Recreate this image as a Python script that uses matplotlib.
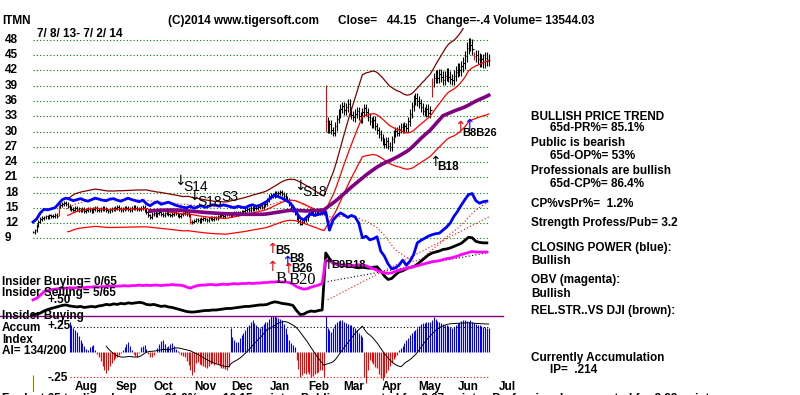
import matplotlib
matplotlib.use("Agg")
import matplotlib.pyplot as plt
from matplotlib.lines import Line2D
from matplotlib.transforms import blended_transform_factory
import numpy as np
import pandas as pd

plt.rcParams['font.family'] = ['Liberation Sans', 'DejaVu Sans']
plt.rcParams['font.weight'] = 'bold'

# ---- data ----
symbol = "ITMN"
date_range = "7/ 8/ 13- 7/ 2/ 14"
month_labels = ['Aug', 'Sep', 'Oct', 'Nov', 'Dec', 'Jan', 'Feb', 'Mar', 'Apr', 'May', 'Jun', 'Jul']
# trading days in each month, Jul 8 2013 .. Jul 2 2014
month_days = [18, 22, 20, 23, 20, 21, 21, 19, 21, 21, 21, 21, 2]
price_ticks = [9, 12, 15, 18, 21, 24, 27, 30, 33, 36, 39, 42, 45, 48]

closes = [
    10.2, 10.6, 11.5, 12.3, 12.8, 13.0,
    13.1, 13.3, 13.2, 13.5, 13.4, 13.3, 13.6, 13.4,
    15.3,
    15.5, 15.8, 16.0, 15.7, 15.4,
    15.0, 14.8, 14.6, 14.9, 14.7, 14.5, 14.6, 14.8, 14.4, 14.5, 14.7,
    14.6, 14.4, 14.7, 14.9, 14.6, 14.5, 14.8, 15.0, 14.7, 14.5,
    14.4, 14.6, 14.8, 14.7, 14.9, 15.1, 14.8, 14.6, 14.7, 14.9,
    15.0, 14.8, 14.6, 14.9, 15.2, 15.0, 14.8, 14.7, 14.9, 15.1,
    14.6, 14.2, 13.5, 13.2, 13.8, 14.0, 13.6, 13.9, 14.1, 13.8, 13.6, 13.9,
    14.0, 13.7, 13.5, 13.8, 14.1, 13.9, 13.6, 13.4, 13.7, 13.9, 14.2, 13.8, 13.5,
    12.2,
    12.3, 12.5, 12.7, 12.6, 12.4, 12.8, 12.9, 12.7, 12.6, 12.9, 13.0, 12.8, 13.1, 13.0,
    13.3, 13.5, 13.6, 13.4, 13.7, 13.9, 13.8, 13.6, 13.9, 14.0, 13.8, 14.1, 14.0, 14.2, 14.3,
    14.5, 14.7, 14.6, 14.9, 14.8, 15.0, 14.9, 15.1, 15.3, 15.2, 15.5, 15.8,
    16.5, 17.2, 17.5, 17.3, 17.8, 17.6, 17.9, 18.1, 17.7, 17.4, 17.0,
    16.5, 15.8, 15.2, 14.6, 14.0,
    13.0, 12.4, 11.9, 12.3, 12.6, 12.8,
    13.6, 13.9, 14.1, 13.8, 14.0, 14.2, 13.9, 14.1, 14.0, 14.2,
    32.0,
    30.5, 31.5, 30.2, 29.8, 31.0, 32.5, 33.5, 34.5, 35.0, 34.2,
    34.8, 35.5, 34.0, 33.2, 32.8, 33.5, 34.0,
    33.0, 32.5, 33.8, 34.6, 33.9, 32.8, 32.0, 31.5, 32.2,
    31.0, 30.2, 29.5, 28.8, 28.0, 27.5, 28.2, 27.2, 26.9,
    28.5, 29.6, 30.1, 29.8, 30.5, 30.9, 30.4, 31.0, 30.7,
    32.0, 33.5, 35.0, 36.2, 36.6, 36.0, 35.6,
    34.8, 34.0, 33.8, 34.5, 33.6,
    34.2,
    39.8,
    40.5, 41.0, 40.6, 41.3, 40.8, 40.2, 40.9, 41.5, 40.8, 40.3,
    40.2, 41.0, 41.8, 42.5, 42.0, 42.8, 43.5,
    44.8, 46.5, 47.3, 47.0, 46.2,
    44.8,
    45.0, 44.3, 43.8, 44.2, 43.6, 44.5, 43.9, 44.15,
]
# big-move days drawn in red
red_days = [14, 86, 160, 218, 241]
red_high = [15.6, 13.8, 39.2, 40.5, 45.6]
red_low = [13.4, 11.9, 30.0, 36.8, 44.0]

# lower indicator lines, one value every 2nd trading day (in chart units)
closing_power = [
    12.2, 12.8, 14.0, 14.7, 14.6, 14.8, 15.0, 15.8, 16.6, 16.9,
    16.7, 16.4, 16.6, 16.8, 16.5, 16.3, 16.6, 16.9, 16.7, 16.5,
    16.4, 16.7, 16.8, 16.5, 16.3, 16.6, 16.9, 16.6, 16.4, 16.2,
    16.5, 15.8, 15.4, 15.9, 16.2, 15.7, 15.9, 16.1, 15.8, 15.5,
    15.3, 15.1, 15.0, 15.3, 14.9, 15.2, 15.4, 15.1, 15.3, 15.6,
    15.5, 15.3, 15.6, 15.4, 15.2, 15.0, 15.3, 15.1, 15.0, 15.4,
    15.6, 15.3, 15.5, 15.9, 16.3, 17.0, 17.5, 17.2, 16.9, 16.5,
    16.1, 15.3, 14.0, 13.0, 12.6, 13.3, 13.8, 13.5, 13.7, 13.9,
    14.2, 10.6, 12.6, 13.4, 14.0, 13.6, 13.1, 13.5, 13.2, 12.0,
    9.1, 9.4, 8.7, 8.9, 9.3, 6.5, 5.5, 4.0, 3.0, 3.2,
    3.7, 4.7, 3.7, 4.5, 5.8, 8.1, 8.6, 9.0, 9.4, 9.7,
    9.9, 10.0, 10.6, 11.2, 12.0, 13.3, 14.3, 15.5, 16.6, 17.6,
    17.8, 16.4, 15.9, 16.2, 16.3,
]
rel_strength = [
    -6.0, -5.9, -5.7, -5.3, -5.0, -4.8, -4.6, -4.4, -4.2, -4.1,
    -4.3, -4.4, -4.5, -4.4, -4.6, -4.5, -4.4, -4.5, -4.3, -4.2,
    -4.0, -4.1, -3.9, -4.0, -3.8, -3.9, -3.7, -3.8, -3.7, -3.6,
    -3.7, -4.0, -4.1, -4.0, -4.2, -4.4, -4.3, -4.5, -4.6, -4.8,
    -5.0, -5.2, -5.4, -5.5, -5.5, -5.4, -5.3, -5.2, -5.2, -5.1,
    -5.1, -5.0, -4.9, -4.8, -4.8, -4.7, -4.6, -4.5, -4.4, -4.4,
    -4.3, -4.2, -4.1, -4.1, -4.0, -3.7, -3.5, -3.6, -3.8, -3.9,
    -4.0, -4.2, -5.2, -6.0, -5.9, -5.5, -5.3, -5.4, -5.2, -5.1,
    6.1, 5.0, 4.1, 3.9, 3.6, 3.7, 3.4, 3.5, 3.3, 3.2,
    3.3, 3.2, 3.1, 3.3, 3.4, 2.6, 1.6, 0.9, 1.1, 1.8,
    2.4, 2.6, 3.0, 3.3, 3.4, 3.9, 4.5, 5.1, 5.7, 6.1,
    6.3, 6.5, 6.8, 6.9, 7.1, 7.4, 7.7, 8.0, 8.6, 9.2,
    9.1, 8.4, 8.2, 8.1, 8.1,
]
obv = [
    -3.1, -2.8, -2.2, -1.5, -1.3, -1.1, -1.0, -0.9, -0.8, -0.8,
    -0.7, -0.8, -0.7, -0.6, -0.7, -0.6, -0.6, -0.5, -0.6, -0.5,
    -0.5, -0.4, -0.5, -0.4, -0.4, -0.3, -0.4, -0.3, -0.3, -0.2,
    -0.3, -0.2, -0.3, -0.2, -0.2, -0.3, -0.2, -0.2, -0.1, -0.2,
    -0.2, -0.3, -0.6, -0.8, -0.5, -0.3, -0.2, -0.2, -0.1, -0.1,
    -0.2, -0.1, 0.0, -0.1, 0.0, 0.1, 0.0, 0.1, 0.1, 0.2,
    0.1, 0.2, 0.2, 0.3, 0.3, 0.4, 0.4, 0.5, 0.4, 0.4,
    0.3, 0.0, -0.5, -0.8, -1.0, -0.9, -0.6, -0.4, -0.2, 0.1,
    4.7, 4.5, 4.2, 3.9, 3.7, 3.8, 3.7, 3.6, 3.7, 3.8,
    3.7, 3.6, 3.3, 3.0, 2.7, 2.4, 2.2, 2.1, 2.2, 2.5,
    2.7, 2.9, 3.1, 3.3, 3.4, 3.6, 3.8, 4.0, 4.2, 4.4,
    4.5, 4.6, 4.8, 5.0, 5.1, 5.3, 5.5, 5.8, 6.0, 6.2,
    6.4, 6.3, 6.3, 6.3, 6.3,
]
# trend lines after the February gap: (day, value)
trend_days = [161, 249]
trend_black = [0.5, 6.2]
trend_red = [-3.1, 13.2]

# Accumulation Index in hundredths, from day 20 on
ai_first_day = 20
accum_index = [
    30, 27, 24, 22, 20, 16, 12, 9, 6, 3,
    2, 5, 6, 7, 2, -2, -5, -9, -14, -18,
    -21, -18, -14, -11, -8, -6, -5, -3, -1, 2,
    5, 8, 10, 6, 2, -2, -4, -5, -1, 5,
    6, 7, 3, -2, -5, -5, -3, 0, 4, 8,
    11, 12, 8, 5, 6, 8, 9, 6, 3, 1,
    -1, -3, -4, -5, -9, -13, -18, -23, -20, -11,
    -10, -12, -13, -14, -15, -16, -14, -12, -11, -13,
    -11, -12, -14, -16, -16, -17, -18, -15, 24, 15,
    12, 10, 10, 14, 17, 19, 22, 25, 27, 30,
    32, 29, 27, 25, 24, 26, 28, 30, 30, 33,
    36, 37, 36, 35, 34, 33, 32, 28, 24, 18,
    12, 9, 7, 5, -8, -17, -25, -23, -21, -22,
    -20, -22, -25, -24, -22, -21, -20, -18, -18, -25,
    37, 24, 22, 20, 24, 28, 30, 31, 32, 32,
    30, 29, 28, 27, 27, 25, 24, 22, 19, 17,
    15, -25, -31, -18, -8, -10, -12, -15, -16, -22,
    -26, -28, -25, -21, -18, -14, -11, -7, -5, -3,
    2, 4, 6, 9, 12, 14, 17, 19, 21, 22,
    24, 26, 28, 29, 29, 30, 30, 30, 32, 35,
    33, 31, 30, 29, 28, 27, 27, 26, 25, 24,
    25, 27, 29, 29, 31, 32, 32, 31, 30, 32,
    30, 29, 28, 27, 27, 26, 25, 25, 24, 24,
]

right_text = [
    ("BULLISH PRICE TREND", 531, 117), ("65d-PR%= 85.1%", 550, 128),
    ("Public is bearish", 531, 143), ("65d-OP%= 53%", 550, 156),
    ("Professionals are bullish", 531, 171), ("65d-CP%= 86.4%", 550, 184),
    ("CP%vsPr%=  1.2%", 531, 204), ("Strength Profess/Pub= 3.2", 531, 223),
    ("CLOSING POWER (blue):", 531, 248), ("Bullish", 531, 261),
    ("OBV (magenta):", 531, 280), ("Bullish", 531, 294),
    ("REL.STR..VS DJI (brown):", 531, 311),
    ("Currently Accumulation", 531, 358), ("IP=  .214", 550, 370),
]

# ---- layout ----
W, H = 800, 395
X0, PX_DAY = 33, 1.83
XLIM = (-1, 265)
fig = plt.figure(figsize=(W / 100, H / 100), dpi=100)


def rect(top, bottom):
    l = X0 + XLIM[0] * PX_DAY
    r = X0 + XLIM[1] * PX_DAY
    return [l / W, 1 - bottom / H, (r - l) / W, (bottom - top) / H]


def ftext(x, y, s, **kw):
    kw.setdefault('fontsize', 8.5)
    kw.setdefault('va', 'center')
    fig.text(x / W, 1 - y / H, s, **kw)


ax = fig.add_axes(rect(28, 316))
ax.set_xlim(*XLIM)
ax.set_ylim(9 - (316 - 238.3) / 5.085, 9 + (238.3 - 28) / 5.085)
ax.axis('off')

ax_ai = fig.add_axes(rect(316, 392))
ax_ai.set_xlim(*XLIM)
ax_ai.set_ylim(-0.40, 0.36)
ax_ai.axis('off')

n = len(closes)
days = np.arange(n)
c = np.array(closes)

# green dotted price grid
ax.hlines(price_ticks, 0, n - 1, colors='#008000', linestyles=(0, (1, 2)), lw=0.8, zorder=1)
tr = blended_transform_factory(fig.transFigure, ax.transData)
for t in price_ticks:
    ax.text(5 / W, t, str(t), transform=tr, ha='left', va='center', fontsize=8.5)

# daily bars
prev = np.r_[c[0], c[:-1]]
pad = 0.025 * c
hi = np.maximum(prev, c) + pad
lo = np.minimum(prev, c) - pad
hi[red_days] = red_high
lo[red_days] = red_low
bar_col = np.array(['black'] * n, dtype=object)
bar_col[red_days] = 'red'
ax.vlines(days, lo, hi, colors=bar_col, lw=0.8, zorder=2)
ax.hlines(c, days, days + 0.8, colors=bar_col, lw=0.8, zorder=2)

# bands and moving averages
s = pd.Series(c)
ma21 = s.rolling(21, min_periods=20).mean()
ma65 = s.rolling(65).mean()
ax.plot(days, ma21 * 1.25, color='#800000', lw=0.9, zorder=3)
ax.plot(days, ma21, color='red', lw=0.9, zorder=3)
ax.plot(days, ma21 * 0.76, color='red', lw=0.9, zorder=3)
ax.plot(days, ma65, color='#800080', lw=2.6, zorder=4)

# closing power, OBV, relative strength
d2 = np.arange(len(closing_power)) * 2
cp_ma = pd.Series(closing_power).rolling(10).mean()
ax.plot(d2, cp_ma, color='red', ls=(0, (1, 2)), lw=0.8, zorder=3)
ax.plot(trend_days, trend_black, color='black', ls=(0, (1, 2)), lw=0.8, zorder=3)
ax.plot(trend_days, trend_red, color='red', ls=(0, (1, 2)), lw=0.8, zorder=3)
ax.plot(d2, closing_power, color='#0000ff', lw=2, zorder=5)
ax.plot(d2, rel_strength, color='black', lw=2, zorder=5)
ax.plot(d2, obv, color='#ff00ff', lw=2, zorder=5)

# accumulation index
ai = np.array(accum_index) / 100
ai_days = np.arange(ai_first_day, ai_first_day + len(ai))
ax_ai.vlines(ai_days, 0, ai, colors=np.where(ai >= 0, '#0000ff', 'red'), lw=0.8)
ax_ai.plot(ai_days, pd.Series(ai).rolling(21).mean(), color='black', lw=0.7)
ax_ai.hlines(0.25, ai_first_day, n - 1, colors='black', linestyles=(0, (1, 2)), lw=0.8)
ax_ai.hlines(-0.25, ai_first_day, n - 1, colors='red', linestyles=(0, (1, 2)), lw=0.8)
ax_ai.vlines(0, -0.40, -0.23, colors='#808000', lw=0.8)

month_start = np.cumsum(month_days)[:-1]
for m, ms in zip(month_labels, month_start):
    ax_ai.text(ms + 11, -0.35, m, ha='center', va='center', fontsize=8.5, clip_on=False)

fig.add_artist(Line2D([0, 503 / W], [1 - 315.5 / H] * 2, color='#800080', lw=1))

# header
ftext(2, 21, symbol)
ftext(168, 21, "(C)2014 www.tigersoft.com")
ftext(338, 21, "Close=   44.15")
ftext(426, 21, "Change=-.4 Volume= 13544.03")
ftext(37, 34, date_range)

# left labels
ftext(2, 282, "Insider Buying= 0/65")
ftext(2, 293, "Insider Selling= 5/65")
ftext(47, 300, "+.50")
ftext(2, 316, "Insider Buying")
ftext(2, 328, "Accum")
ftext(47, 326, "+.25")
ftext(2, 340, "Index")
ftext(2, 351, "AI= 134/200")
ftext(47, 378, "-.25")

for txt, x, y in right_text:
    ftext(x, y, txt)

ftext(2, 393, "For last 65 trading days   up  21.9%  or  10.15 points   Public accounted for 3.67 points   "
      "Professionals accounted for 8.88 points", va='top')

# signals
arrow = dict(family='DejaVu Sans', fontweight='normal', fontsize=10)
ftext(174, 181, "\u2193", **arrow)
ftext(183, 187, "S14", fontsize=10, fontweight='normal')
ftext(188, 196, "\u2193", **arrow)
ftext(197, 202, "S18", fontsize=10, fontweight='normal')
ftext(221, 197, "S3", fontsize=10, fontweight='normal')
ftext(294, 186, "\u2193", **arrow)
ftext(302, 192, "S18", fontsize=10, fontweight='normal')
ftext(266, 249, "\u2191", color='red', **arrow)
ftext(275, 251, "B5", fontsize=8.5)
ftext(281, 262, "\u2191", color='blue', **arrow)
ftext(289, 259, "B8", fontsize=8.5)
ftext(266, 267, "\u2191", color='red', **arrow)
ftext(282, 269, "\u2191", color='red', **arrow)
ftext(291, 269, "B26", fontsize=8.5)
ftext(276, 279, "B", family='Liberation Serif', fontweight='normal', fontsize=12)
ftext(289, 280, "B20", family='Liberation Serif', fontweight='normal', fontsize=12)
ftext(322, 265, "\u2191", **arrow)
ftext(331, 265, "B9B18", fontsize=8)
ftext(429, 162, "\u2191", **arrow)
ftext(437, 167, "B18", fontsize=8.5)
ftext(454, 127, "\u2191", color='red', **arrow)
ftext(463, 125, "\u2191", color='blue', **arrow)
ftext(462, 133, "B8B26", fontsize=8)

fig.savefig("out.png", dpi=100)
